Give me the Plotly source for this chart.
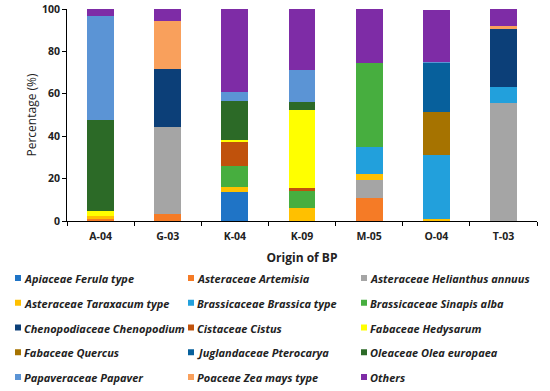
import plotly.graph_objects as go

categories = ["A-04", "G-03", "K-04", "K-09", "M-05", "O-04", "T-03"]

taxa = [
    "Apiaceae Ferula type", "Asteraceae Artemisia", "Asteraceae Helianthus annuus",
    "Asteraceae Taraxacum type", "Brassicaceae Brassica type", "Brassicaceae Sinapis alba",
    "Chenopodiaceae Chenopodium", "Cistaceae Cistus", "Fabaceae Hedysarum",
    "Fabaceae Quercus", "Juglandaceae Pterocarya", "Oleaceae Olea europaea",
    "Papaveraceae Papaver", "Poaceae Zea mays type", "Others",
]

#                     A-04  G-03  K-04  K-09  M-05  O-04  T-03
apiaceae_ferula   = [0,    0,    13.8, 0,    0,    0,    0]
ast_artemisia     = [0.8,  3.3,  0,    0,    10.7, 0,    0]
ast_helianthus    = [0,    40.9, 0,    0,    8.6,  0,    55.8]
ast_taraxacum     = [1.4,  0,    2.3,  6.0,  3.1,  0.8,  0]
bras_brassica     = [0,    0,    0,    0,    12.6, 30.5, 7.6]
bras_sinapis      = [0,    0,    9.8,  8.1,  39.6, 0,    0]
cheno_chenopodium = [0,    27.6, 0,    0,    0,    0,    27.4]
cist_cistus       = [0,    0,    11.2, 1.7,  0,    0,    0]
fab_hedysarum     = [2.7,  0,    1.3,  36.4, 0,    0,    0]
fab_quercus       = [0,    0,    0,    0,    0,    20.1, 0]
jug_pterocarya    = [0,    0,    0,    0,    0,    23.2, 0]
olea_europaea     = [42.6, 0,    18.0, 3.9,  0,    0,    0]
pap_papaver       = [49.4, 0,    4.3,  14.9, 0,    0.6,  0]
poa_zea           = [0,    22.4, 0,    0,    0,    0,    1.0]
others            = [3.1,  5.8,  39.3, 29.0, 25.4, 24.3, 8.2]

series = [apiaceae_ferula, ast_artemisia, ast_helianthus, ast_taraxacum, bras_brassica,
          bras_sinapis, cheno_chenopodium, cist_cistus, fab_hedysarum, fab_quercus,
          jug_pterocarya, olea_europaea, pap_papaver, poa_zea, others]

colors = ["#1F74C6", "#F57B26", "#A5A5A5", "#FFC000", "#22A0DC", "#47AE3F",
          "#0C3F78", "#C0520C", "#FFFF00", "#A67300", "#07609C", "#2C6A27",
          "#5B94D5", "#F9A05C", "#7E2CA6"]

W, H = 550, 391
ML, MR, MT, MB = 67, 13, 9, 170
PW, PH = W - ML - MR, H - MT - MB

fig = go.Figure()
for name, vals, col in zip(taxa, series, colors):
    fig.add_trace(go.Bar(
        x=categories, y=vals, name=name,
        marker=dict(color=col, line=dict(width=0)),
        width=0.4, showlegend=False,
    ))

# legend (3 columns x 5 rows) laid out below the chart
def px_to_paper_x(px):
    return (px - ML) / PW

def px_to_paper_y(py):
    return (H - MB - py) / PH

col_left = [15, 188, 361]
row_pitch = 24.75
row0 = 278
shapes, annotations = [], []
for i, (name, col) in enumerate(zip(taxa, colors)):
    r, c = divmod(i, 3)
    cy = row0 + r * row_pitch
    mx = col_left[c]
    shapes.append(dict(
        type="rect", xref="paper", yref="paper",
        x0=px_to_paper_x(mx), x1=px_to_paper_x(mx + 6),
        y0=px_to_paper_y(cy + 3), y1=px_to_paper_y(cy - 3),
        fillcolor=col, line=dict(width=0),
    ))
    annotations.append(dict(
        xref="paper", yref="paper",
        x=px_to_paper_x(mx + 8), y=px_to_paper_y(cy + 0.5),
        xanchor="left", yanchor="middle", showarrow=False, borderpad=0,
        text=f"<b><i>{name}</i></b>",
        font=dict(size=11, color="#222222"),
    ))

fig.update_layout(
    barmode="stack",
    width=W, height=H,
    margin=dict(l=ML, r=MR, t=MT, b=MB, autoexpand=False),
    paper_bgcolor="white", plot_bgcolor="white",
    font=dict(family="Open Sans, Calibri, sans-serif", color="#222222", size=11),
    showlegend=False,
    shapes=shapes,
    annotations=annotations,
    xaxis=dict(
        title=dict(text="<b>Origin of BP</b>", font=dict(size=12), standoff=12),
        showline=True, linecolor="#000000", linewidth=1,
        ticks="outside", ticklen=4, tickcolor="#000000",
        tickson="boundaries",
        tickfont=dict(size=10.5),
        ticklabelstandoff=5,
        tickprefix="<b>", ticksuffix="</b>",
        showgrid=False,
    ),
    yaxis=dict(
        title=dict(text="Percentage (%)", font=dict(size=12), standoff=2),
        range=[0, 100], dtick=20,
        showline=True, linecolor="#000000", linewidth=1,
        ticks="outside", ticklen=4, tickcolor="#000000",
        tickfont=dict(size=10.5),
        tickprefix="<b>", ticksuffix="</b>",
        showgrid=False, zeroline=False,
    ),
)

fig.write_html("out.html", config={"displayModeBar": False},
               post_script="document.body.style.margin='0';")
